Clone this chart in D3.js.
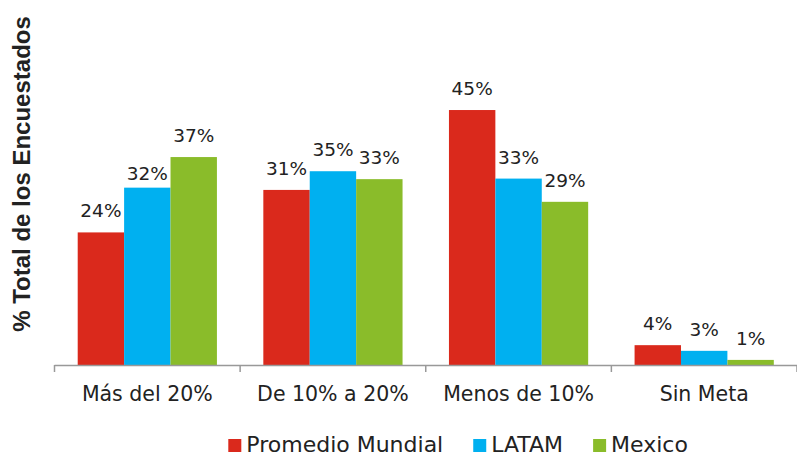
<!DOCTYPE html>
<html>
<head>
<meta charset="utf-8">
<script src="https://cdn.jsdelivr.net/npm/d3@7"></script>
<style>
  body { margin: 0; background: #fff; }
  text { fill: #222; }
</style>
</head>
<body>
<svg width="797" height="456"></svg>
<script>
const categories = ["Más del 20%", "De 10% a 20%", "Menos de 10%", "Sin Meta"];
const seriesNames = ["Promedio Mundial", "LATAM", "Mexico"];
const promedioMundial = [23.4, 30.9, 45.0, 3.5];
const latam = [31.3, 34.2, 32.9, 2.5];
const mexico = [36.7, 32.8, 28.8, 0.9];
const promedioLabels = ["24%", "31%", "45%", "4%"];
const latamLabels = ["32%", "35%", "33%", "3%"];
const mexicoLabels = ["37%", "33%", "29%", "1%"];
const colors = ["#da291c", "#00b0f0", "#8abc2a"];

function drawChart() {
  const svg = d3.select("svg");
  const left = 54.5;
  const right = 797;
  const baseY = 365;
  const topY = 81.7;

  const values = [promedioMundial, latam, mexico];
  const labels = [promedioLabels, latamLabels, mexicoLabels];

  const x0 = d3.scaleBand().domain(categories).range([left, right]).padding(0);
  const x1 = d3.scaleBand()
    .domain(seriesNames)
    .range([0, x0.bandwidth()])
    .paddingInner(0)
    .paddingOuter(0.5);
  const y = d3.scaleLinear().domain([0, 50]).range([baseY, topY]);

  // bars, one group per series
  seriesNames.forEach((name, si) => {
    const rows = categories.map((c, ci) => ({ c: c, v: values[si][ci], label: labels[si][ci] }));
    const g = svg.append("g");
    g.selectAll("rect")
      .data(rows)
      .join("rect")
      .attr("x", d => x0(d.c) + x1(name))
      .attr("y", d => y(d.v))
      .attr("width", x1.bandwidth())
      .attr("height", d => baseY - y(d.v))
      .attr("fill", colors[si]);

    g.selectAll("text")
      .data(rows)
      .join("text")
      .attr("x", d => x0(d.c) + x1(name) + x1.bandwidth() / 2)
      // the 32% label sits lower in the original
      .attr("y", d => y(d.v) - (d.label === "32%" ? 8 : 15))
      .attr("text-anchor", "middle")
      .attr("font-family", "DejaVu Sans")
      .attr("font-size", 18.5)
      .text(d => d.label);
  });

  // x axis line with ticks between categories
  svg.append("line")
    .attr("x1", left).attr("x2", right)
    .attr("y1", baseY + 0.5).attr("y2", baseY + 0.5)
    .attr("stroke", "#999").attr("stroke-width", 1.5);

  const tickXs = categories.map(c => x0(c)).concat([right]);
  svg.append("g").selectAll("line")
    .data(tickXs)
    .join("line")
    .attr("x1", d => d).attr("x2", d => d)
    .attr("y1", baseY).attr("y2", baseY + 7)
    .attr("stroke", "#999").attr("stroke-width", 1.5);

  svg.append("g").selectAll("text")
    .data(categories)
    .join("text")
    .attr("x", d => x0(d) + x0.bandwidth() / 2)
    .attr("y", 401)
    .attr("text-anchor", "middle")
    .attr("font-family", "DejaVu Sans")
    .attr("font-size", 20.5)
    .text(d => d);

  // y title
  svg.append("text")
    .attr("transform", "translate(30,174) rotate(-90)")
    .attr("text-anchor", "middle")
    .attr("font-family", "Liberation Sans, Arial, sans-serif")
    .attr("font-weight", "bold")
    .attr("font-size", 24)
    .attr("fill", "#111")
    .text("% Total de los Encuestados");

  // legend
  let lx = 228.3;
  seriesNames.forEach((name, i) => {
    svg.append("rect")
      .attr("x", lx).attr("y", 439)
      .attr("width", 13).attr("height", 13)
      .attr("fill", colors[i]);
    const t = svg.append("text")
      .attr("x", lx + 18)
      .attr("y", 451.5)
      .attr("font-family", "DejaVu Sans")
      .attr("font-size", 22)
      .text(name);
    lx = lx + 18 + t.node().getComputedTextLength() + 30;
  });
}

window.onload = drawChart;
</script>
</body>
</html>
